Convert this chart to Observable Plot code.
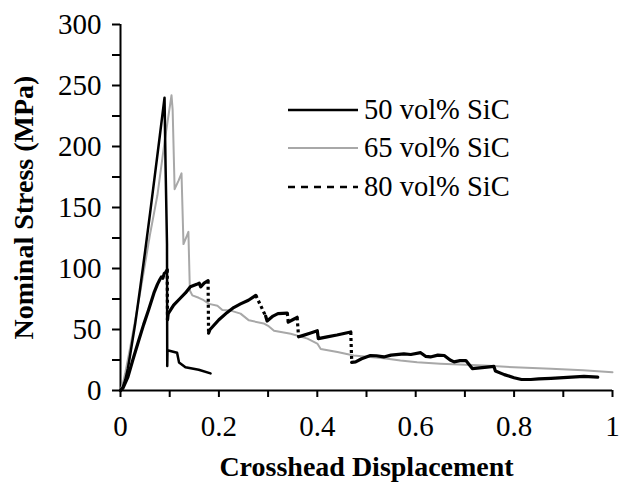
<!DOCTYPE html>
<html>
<head>
<meta charset="utf-8">
<script src="https://cdn.jsdelivr.net/npm/d3@7"></script>
<script src="https://cdn.jsdelivr.net/npm/@observablehq/plot@0.6"></script>
<style>
  body { margin: 0; background: white; }
  #wrap { position: relative; width: 619px; height: 486px; font-family: "Liberation Serif", "DejaVu Serif", serif; }
  .leg { position: absolute; left: 288px; height: 38px; display: flex; align-items: center; font-size: 28.5px; color: black; white-space: nowrap; }
  .leg svg { margin-right: 6px; }
</style>
</head>
<body>
<div id="wrap"><div id="chart"></div><div id="legend"></div></div>
<script>
// ---- data ----
const seriesNames = ["50 vol% SiC", "65 vol% SiC", "80 vol% SiC"];

const x50 = [0, 0.005, 0.01, 0.015, 0.02, 0.03, 0.04, 0.05, 0.06, 0.07, 0.08, 0.0895, 0.0915, 0.0945, 0.095, 0.0955, 0.115, 0.119, 0.132, 0.159, 0.183];
const y50 = [0, 3, 9, 18, 30, 55, 84, 114, 145, 177, 209, 240, 186, 120, 20, 33, 31, 23, 19, 17, 14];

const x65 = [0, 0.005, 0.01, 0.02, 0.03, 0.039, 0.05, 0.06, 0.075, 0.09, 0.1037, 0.106, 0.110, 0.118, 0.124, 0.128, 0.134, 0.138, 0.141, 0.146, 0.159, 0.169, 0.18, 0.197, 0.207, 0.224, 0.244, 0.261, 0.291, 0.30, 0.312, 0.346, 0.38, 0.40, 0.407, 0.441, 0.474, 0.535, 0.569, 0.603, 0.65, 0.739, 0.80, 0.875, 0.94, 1.0];
const y65 = [0, 6, 15, 36, 58, 78, 104, 128, 160, 205, 242, 230, 165, 172, 178, 120, 126, 130, 82, 78, 76, 74, 71, 69.5, 66, 65.5, 63, 57.5, 55, 53, 49, 46.5, 42.5, 38.5, 34, 31.5, 28.7, 26.5, 24.6, 23.2, 22, 20.5, 19, 17.8, 16.5, 15];

const x80 = [0, 0.005, 0.015, 0.025, 0.037, 0.047, 0.057, 0.068, 0.075, 0.08, 0.083, 0.086, 0.089, 0.092, 0.095, 0.0955, 0.097, 0.108, 0.12, 0.132, 0.142, 0.155, 0.16, 0.163, 0.17, 0.178, 0.179, 0.182, 0.2, 0.217, 0.23, 0.244, 0.26, 0.275, 0.295, 0.298, 0.31, 0.32, 0.339, 0.341, 0.35, 0.359, 0.362, 0.37, 0.385, 0.40, 0.402, 0.42, 0.44, 0.468, 0.47, 0.478, 0.49, 0.508, 0.52, 0.535, 0.55, 0.576, 0.59, 0.61, 0.62, 0.63, 0.645, 0.658, 0.67, 0.678, 0.69, 0.702, 0.715, 0.74, 0.759, 0.762, 0.78, 0.80, 0.815, 0.834, 0.85, 0.875, 0.90, 0.942, 0.97];
const y80 = [0, 2, 11, 25, 41, 54, 66, 80, 87, 91, 93, 92, 96, 97, 99, 58, 63, 70, 75, 80, 85, 87, 88, 85, 88, 90, 47, 50, 58, 64, 68, 71, 74, 78, 61, 57, 61, 63, 63.5, 56, 58, 60, 44, 45, 47, 49, 42.5, 44, 45.5, 48, 23, 23.5, 26, 28.7, 28.5, 27.5, 29, 30, 29.5, 31, 28, 27.5, 29, 28.7, 25, 23.5, 24.5, 24.5, 18, 19, 19.7, 16, 13, 10.5, 9, 9, 9.5, 10, 10.5, 11.5, 11];

const xTicks = [0, 0.2, 0.4, 0.6, 0.8, 1];
const xMinor = [0.1, 0.3, 0.5, 0.7, 0.9];
const yTicks = [0, 50, 100, 150, 200, 250, 300];
const yMinor = [25, 75, 125, 175, 225, 275];
const xTitle = "Crosshead Displacement";
const yTitle = "Nominal Stress (MPa)";

// ---- build tables ----
const d50 = x50.map((x, i) => ({x, y: y50[i]}));
const d65 = x65.map((x, i) => ({x, y: y65[i]}));
// 80%: split into solid rising runs and dotted load drops
const seg80 = [];
for (let i = 0; i < x80.length - 1; i++) {
  const dx = x80[i + 1] - x80[i], dy = y80[i + 1] - y80[i];
  const drop = dy < -7 && dy / Math.max(dx, 1e-6) < -400;
  seg80.push({x1: x80[i], y1: y80[i], x2: x80[i + 1], y2: y80[i + 1], drop});
}
const solid80 = [];
let run = 0;
seg80.forEach((s) => {
  if (s.drop) { run++; return; }
  solid80.push({x: s.x1, y: s.y1, run});
  solid80.push({x: s.x2, y: s.y2, run});
});

const font = "Liberation Serif";
const tickFs = 29;
const titleFs = 28;

const chart = Plot.plot({
  width: 619,
  height: 486,
  marginLeft: 120,
  marginRight: 7,
  marginTop: 24,
  marginBottom: 96,
  x: {domain: [0, 1]},
  y: {domain: [0, 300]},
  style: {fontFamily: font, fontSize: tickFs + "px", color: "black", background: "white", overflow: "visible"},
  marks: [
    Plot.axisY({ticks: yMinor, tickSize: 8, tickFormat: () => "", strokeWidth: 2, label: null}),
    Plot.axisY({ticks: yTicks, tickSize: 8, tickPadding: 11, strokeWidth: 2, label: null, fontSize: tickFs, fill: "black"}),
    Plot.axisX({ticks: xMinor, tickSize: 7, tickFormat: () => "", strokeWidth: 2, label: null}),
    Plot.axisX({ticks: xTicks, tickSize: 7, tickPadding: 18, strokeWidth: 2, label: null, fontSize: tickFs, fill: "black", tickFormat: d => d3.format("")(d)}),
    Plot.ruleX([0], {stroke: "black", strokeWidth: 2}),
    Plot.ruleY([0], {stroke: "black", strokeWidth: 2}),
    Plot.line(d65, {x: "x", y: "y", stroke: "#a8a8a8", strokeWidth: 2}),
    Plot.line(d50, {x: "x", y: "y", stroke: "black", strokeWidth: 2.5}),
    Plot.line(solid80, {x: "x", y: "y", z: "run", stroke: "black", strokeWidth: 3.2, strokeLinecap: "round"}),
    Plot.link(seg80.filter(s => s.drop), {x1: "x1", y1: "y1", x2: "x2", y2: "y2", stroke: "black", strokeWidth: 3.2, strokeDasharray: "3,3"}),
    Plot.text([xTitle], {frameAnchor: "bottom", lineAnchor: "middle", textAnchor: "middle", dy: 77, fontWeight: "bold", fontSize: titleFs, fill: "black"}),
    Plot.text([yTitle], {frameAnchor: "left", lineAnchor: "middle", textAnchor: "middle", dx: -96, rotate: -90, fontWeight: "bold", fontSize: titleFs, fill: "black"})
  ]
});
document.getElementById("chart").appendChild(chart);

// ---- legend ----
const legend = document.getElementById("legend");
const legStyles = [
  {stroke: "black", width: 2.5, dash: null},
  {stroke: "#a8a8a8", width: 2, dash: null},
  {stroke: "black", width: 2.5, dash: "7,6"}
];
const legCenters = [110, 148, 187];
seriesNames.forEach((name, i) => {
  const row = document.createElement("div");
  row.className = "leg";
  row.style.top = (legCenters[i] - 19) + "px";
  const s = legStyles[i];
  row.innerHTML = `<svg width="70" height="10"><line x1="0" x2="70" y1="5" y2="5" stroke="${s.stroke}" stroke-width="${s.width}" ${s.dash ? `stroke-dasharray="${s.dash}"` : ""}/></svg><span>${name}</span>`;
  legend.appendChild(row);
});
</script>
</body>
</html>
